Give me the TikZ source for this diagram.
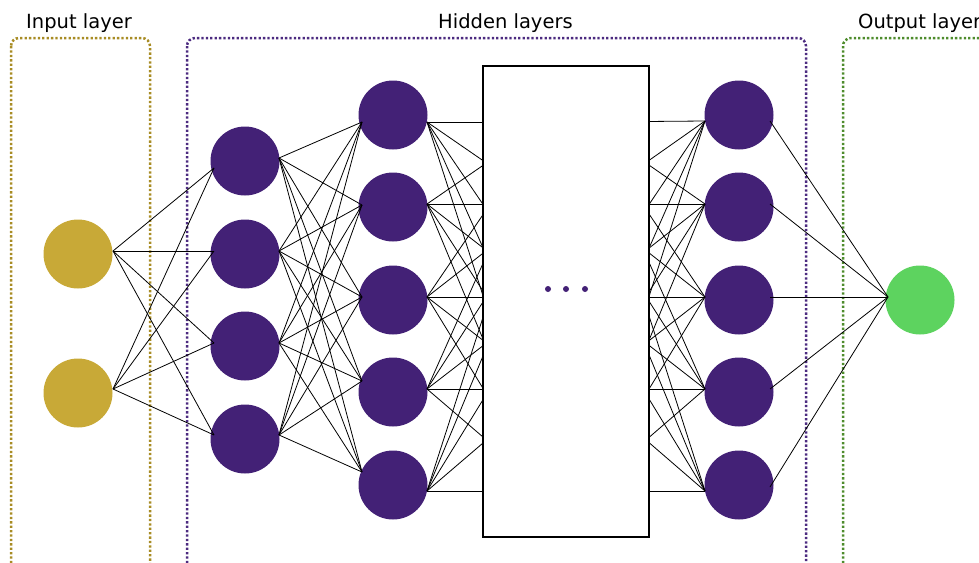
\documentclass[tikz,border=0pt]{standalone}
\usepackage{fontspec}
\setmainfont{DejaVu Sans}
\usetikzlibrary{calc}
\definecolor{goldc}{HTML}{C8A937}
\definecolor{purplec}{HTML}{432176}
\definecolor{greenc}{HTML}{5DD35F}
\definecolor{goldframe}{HTML}{A88C24}
\definecolor{purpleframe}{HTML}{4C2B80}
\definecolor{greenframe}{HTML}{4E8C2C}
\begin{document}
\begin{tikzpicture}[x=1pt,y=-1pt,
  unit/.style={circle,minimum size=69pt,inner sep=0pt,draw=none},
  inunit/.style={unit,fill=goldc},
  hidunit/.style={unit,fill=purplec},
  outunit/.style={unit,fill=greenc},
  wire/.style={black,line width=0.8pt},
  layerframe/.style={line width=2.5pt,dash pattern=on 2.3pt off 2.1pt,rounded corners=8pt},
  title/.style={anchor=base west,inner sep=0pt,font=\fontsize{19.5}{22}\selectfont},
  blackbox/.style={draw=black,fill=white,line width=2.5pt},
  ellipsisdot/.style={circle,fill=purplec,minimum size=6pt,inner sep=0pt}
]
\clip (0,0) rectangle (979,562);

% layer frames
\draw[layerframe,draw=goldframe] (11,38) rectangle (150,640);
\draw[layerframe,draw=purpleframe] (187,38) rectangle (806,640);
\draw[layerframe,draw=greenframe] (843,38) rectangle (1040,640);

% titles
\node[title] (tin) at (26,28) {Input layer};
\node[title] (thid) at (438,28) {Hidden layers};
\node[title] (tout) at (858,28) {Output layer};

% units
\node[inunit] (in1) at (78,254) {};
\node[inunit] (in2) at (78,393) {};
\foreach \y [count=\i] in {161,254,346,439}
  \node[hidunit] (h1-\i) at (245,\y) {};
\foreach \y [count=\i] in {115,207,300,392,485}
  \node[hidunit] (h2-\i) at (393,\y) {};
\foreach \y [count=\i] in {115,207,300,392,485}
  \node[hidunit] (h3-\i) at (739,\y) {};
\node[outunit] (out) at (920,300) {};

% attachment points of the wires
\coordinate (in1-r) at ($(in1)+(35,-3)$);
\coordinate (in2-r) at ($(in2)+(35,-4)$);
\foreach \dl/\dr [count=\i] in {7/-3,-3/-3,-3/-3,-4/-4}{
  \coordinate (h1-\i-l) at ($(h1-\i)+(-31,\dl)$);
  \coordinate (h1-\i-r) at ($(h1-\i)+(34,\dr)$);
}
\foreach \dl/\dr [count=\i] in {7/7,-2/-3,-3/-3,-11/-3,-13/6}{
  \coordinate (h2-\i-l) at ($(h2-\i)+(-31,\dl)$);
  \coordinate (h2-\i-r) at ($(h2-\i)+(34,\dr)$);
}
\foreach \dl/\dr [count=\i] in {6/6,-3/-3,-3/-3,-3/-3,6/2}{
  \coordinate (h3-\i-l) at ($(h3-\i)+(-34,\dl)$);
  \coordinate (h3-\i-r) at ($(h3-\i)+(31,\dr)$);
}
\coordinate (out-l) at ($(out)+(-32,-3)$);
% hidden units inside the collapsed block
\foreach \y [count=\i] in {122,204,297,389,491}{
  \coordinate (va-\i) at (546,\y);
  \coordinate (vb-\i) at (587,\y);
}

% wires
\foreach \a in {1,2}
  \foreach \b in {1,...,4}
    \draw[wire] (in\a-r) -- (h1-\b-l);
\foreach \a in {1,...,4}
  \foreach \b in {1,...,5}
    \draw[wire] (h1-\a-r) -- (h2-\b-l);
\foreach \a in {1,...,5}
  \foreach \b in {1,...,5}{
    \draw[wire] (h2-\a-r) -- (va-\b);
    \draw[wire] (vb-\a) -- (h3-\b-l);
  }
\foreach \a in {1,...,5}
  \draw[wire] (h3-\a-r) -- (out-l);

% collapsed block of hidden layers
\node[blackbox,minimum width=166pt,minimum height=471pt,inner sep=0pt] (block) at (566,301.5) {};
\node[ellipsisdot] (d1) at (548,289) {};
\node[ellipsisdot] (d2) at (566,289) {};
\node[ellipsisdot] (d3) at (585,289) {};
\end{tikzpicture}
\end{document}
